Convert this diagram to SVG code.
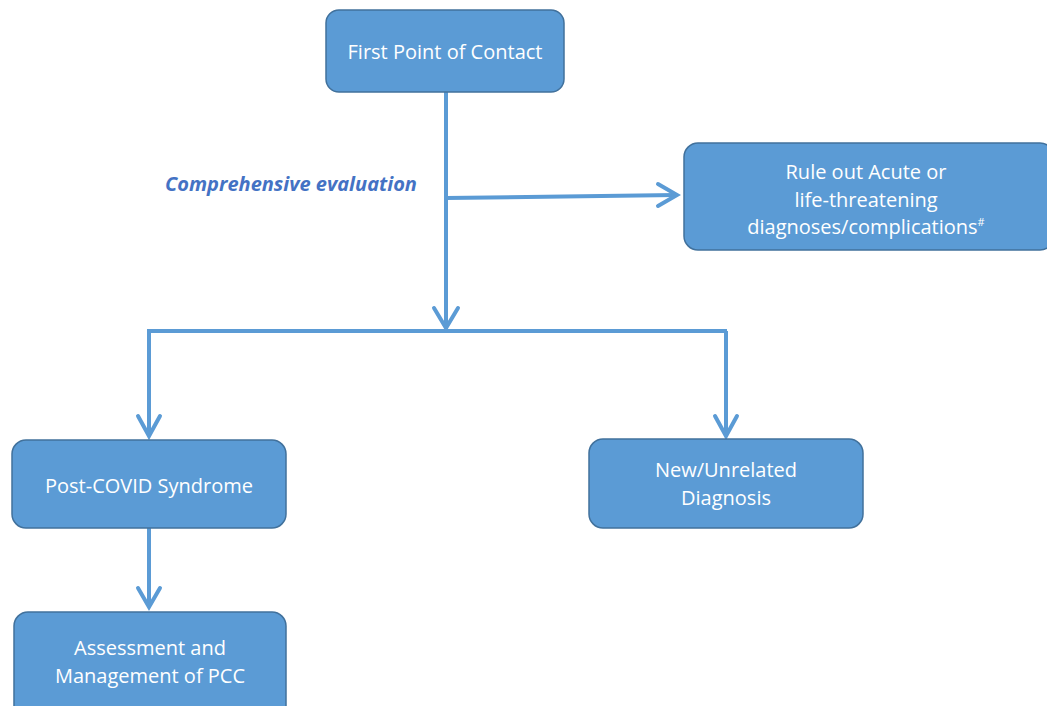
<svg xmlns="http://www.w3.org/2000/svg" width="1047" height="706" viewBox="0 0 1047 706">
<style>
.box{fill:#5B9BD5;stroke:#41719C;stroke-width:1.5}
.t{fill:#fff;font-family:"Open Sans","Liberation Sans",sans-serif;font-size:20px;text-anchor:middle}
.c{fill:none;stroke:#5B9BD5;stroke-width:4;stroke-linecap:butt}
.h{fill:none;stroke:#5B9BD5;stroke-width:4;stroke-linecap:round;stroke-linejoin:miter}
.lbl{fill:#4472C4;font-family:"Open Sans","Liberation Sans",sans-serif;font-size:20px;font-weight:bold;font-style:italic;text-anchor:middle}
</style>
<rect width="1047" height="706" fill="#fff"/>
<g id="connectors">
<path class="c" d="M446,92 V328"/>
<path class="h" d="M434,308 L446,328 L458,308"/>
<path class="c" d="M446,198 L676,195"/>
<path class="h" d="M658,184 L677,195 L658,206"/>
<path class="c" d="M147,331 H727"/>
<path class="c" d="M149,331 V436"/>
<path class="h" d="M138,416 L149,436 L160,416"/>
<path class="c" d="M726,331 V436"/>
<path class="h" d="M715,416 L726,436 L737,416"/>
<path class="c" d="M149,528 V607"/>
<path class="h" d="M138,588 L149,607 L160,588"/>
<text class="lbl" x="291" y="191">Comprehensive evaluation</text>
</g>
<g id="first-contact">
<rect class="box" x="326" y="10" width="238" height="82" rx="13"/>
<text class="t" x="445" y="59">First Point of Contact</text>
</g>
<g id="rule-out">
<rect class="box" x="684" y="143" width="370" height="107" rx="14"/>
<text class="t" x="866" y="179">Rule out Acute or</text>
<text class="t" x="866" y="207">life-threatening</text>
<text class="t" x="866" y="234">diagnoses/complications<tspan font-size="11" dy="-8">#</tspan></text>
</g>
<g id="post-covid">
<rect class="box" x="12" y="440" width="274" height="88" rx="14"/>
<text class="t" x="149" y="493">Post-COVID Syndrome</text>
</g>
<g id="new-diagnosis">
<rect class="box" x="589" y="439" width="274" height="89" rx="14"/>
<text class="t" x="726" y="477">New/Unrelated</text>
<text class="t" x="726" y="505">Diagnosis</text>
</g>
<g id="assessment">
<rect class="box" x="14" y="612" width="272" height="110" rx="14"/>
<text class="t" x="150" y="655">Assessment and</text>
<text class="t" x="150" y="683">Management of PCC</text>
</g>
</svg>
